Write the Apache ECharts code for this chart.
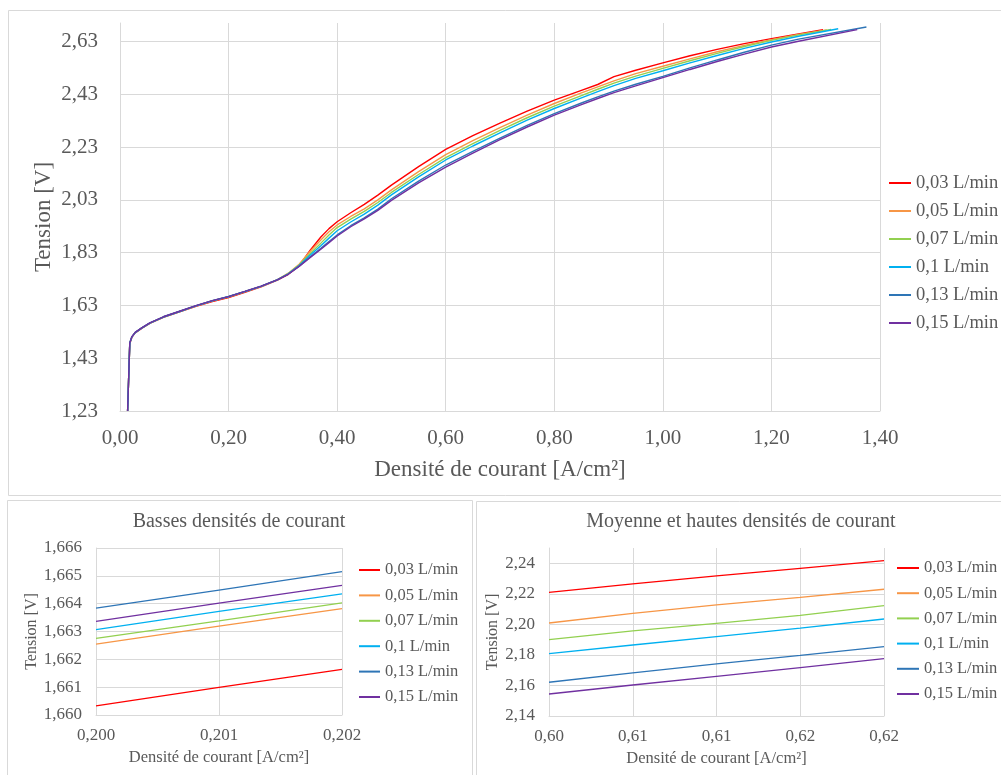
<!DOCTYPE html>
<html><head><meta charset="utf-8">
<script src="https://cdn.jsdelivr.net/npm/echarts@6/dist/echarts.min.js"></script>
<style>html,body{margin:0;padding:0;background:#fff}#c{width:1001px;height:775px}</style>
</head><body><div id="c"></div>
<script>
const seriesNames = ['0,03 L/min','0,05 L/min','0,07 L/min','0,1 L/min','0,13 L/min','0,15 L/min'];
const seriesColors = ['#FF0000','#F79646','#92D050','#00B0F0','#2E75B6','#7030A0'];

// Main chart
const mainX = [0.014, 0.018, 0.022, 0.028, 0.04, 0.055, 0.08, 0.11, 0.14, 0.17, 0.20, 0.23, 0.26, 0.29, 0.31, 0.33,
  0.35, 0.37, 0.385, 0.40, 0.425, 0.45, 0.475, 0.50, 0.55, 0.60, 0.65, 0.70, 0.75, 0.80, 0.85, 0.88, 0.91, 0.95, 1.00, 1.05, 1.10, 1.15, 1.20, 1.25];
const mainY003 = [1.230, 1.486, 1.510, 1.526, 1.543, 1.562, 1.585, 1.606, 1.627, 1.645, 1.660, 1.680, 1.700, 1.726, 1.748, 1.780,
  1.838, 1.889, 1.921, 1.947, 1.981, 2.013, 2.048, 2.086, 2.156, 2.221, 2.273, 2.321, 2.366, 2.408, 2.445, 2.467, 2.497, 2.521, 2.549, 2.576, 2.600, 2.622, 2.641, 2.659];
const mainY005 = [1.230, 1.487, 1.511, 1.527, 1.544, 1.563, 1.586, 1.607, 1.628, 1.647, 1.6625, 1.682, 1.702, 1.728, 1.752, 1.786,
  1.834, 1.878, 1.909, 1.935, 1.967, 1.996, 2.030, 2.068, 2.137, 2.201, 2.254, 2.304, 2.351, 2.395, 2.435, 2.458, 2.481, 2.508, 2.536, 2.564, 2.591, 2.615, 2.637, 2.657];
const mainY007 = [1.230, 1.487, 1.511, 1.527, 1.544, 1.563, 1.586, 1.607, 1.628, 1.647, 1.6628, 1.682, 1.702, 1.727, 1.751, 1.783,
  1.826, 1.866, 1.897, 1.925, 1.957, 1.986, 2.020, 2.058, 2.126, 2.190, 2.243, 2.293, 2.341, 2.385, 2.425, 2.449, 2.472, 2.499, 2.528, 2.557, 2.585, 2.611, 2.634, 2.655];
const mainY010 = [1.230, 1.488, 1.511, 1.527, 1.544, 1.563, 1.586, 1.607, 1.628, 1.647, 1.6631, 1.682, 1.702, 1.727, 1.750, 1.781,
  1.820, 1.856, 1.885, 1.913, 1.946, 1.976, 2.010, 2.049, 2.117, 2.181, 2.234, 2.284, 2.332, 2.376, 2.416, 2.440, 2.463, 2.490, 2.519, 2.549, 2.577, 2.604, 2.628, 2.650];
const mainY013 = [1.230, 1.488, 1.512, 1.528, 1.545, 1.564, 1.587, 1.608, 1.629, 1.648, 1.6638, 1.683, 1.703, 1.728, 1.749, 1.779,
  1.813, 1.846, 1.872, 1.897, 1.932, 1.962, 1.995, 2.034, 2.101, 2.162, 2.214, 2.264, 2.312, 2.357, 2.397, 2.420, 2.442, 2.468, 2.498, 2.530, 2.560, 2.589, 2.616, 2.639];
const mainY015 = [1.230, 1.488, 1.512, 1.528, 1.545, 1.564, 1.587, 1.608, 1.629, 1.648, 1.6634, 1.683, 1.703, 1.727, 1.748, 1.778,
  1.811, 1.843, 1.868, 1.893, 1.928, 1.958, 1.990, 2.028, 2.094, 2.154, 2.207, 2.258, 2.306, 2.351, 2.391, 2.414, 2.436, 2.462, 2.493, 2.524, 2.554, 2.582, 2.609, 2.631];
const mainEndX = [1.295, 1.302, 1.310, 1.323, 1.375, 1.358];
const mainEndY = [2.675, 2.674, 2.676, 2.678, 2.685, 2.675];
const mainXTicks = [0, 0.2, 0.4, 0.6, 0.8, 1.0, 1.2, 1.4];
const mainXLabels = ['0,00','0,20','0,40','0,60','0,80','1,00','1,20','1,40'];
const mainYTicks = [1.23, 1.43, 1.63, 1.83, 2.03, 2.23, 2.43, 2.63];
const mainYLabels = ['1,23','1,43','1,63','1,83','2,03','2,23','2,43','2,63'];

// Low current density zoom
const lowX = [0.200, 0.201, 0.202];
const lowY003 = [1.66033, 1.66099, 1.66164];
const lowY005 = [1.66255, 1.66319, 1.66382];
const lowY007 = [1.66275, 1.66338, 1.66403];
const lowY010 = [1.66307, 1.66372, 1.66435];
const lowY013 = [1.66384, 1.66449, 1.66515];
const lowY015 = [1.66336, 1.66402, 1.66466];
const lowXTicks = [0.200, 0.201, 0.202];
const lowXLabels = ['0,200','0,201','0,202'];
const lowYTicks = [1.660, 1.661, 1.662, 1.663, 1.664, 1.665, 1.666];
const lowYLabels = ['1,660','1,661','1,662','1,663','1,664','1,665','1,666'];

// Medium/high current density zoom
const midX = [0.600, 0.605, 0.610, 0.615, 0.620];
const midY003 = [2.2210, 2.2265, 2.2317, 2.2367, 2.2417];
const midY005 = [2.2009, 2.2072, 2.2127, 2.2177, 2.2230];
const midY007 = [2.1900, 2.1957, 2.2007, 2.2059, 2.2123];
const midY010 = [2.1808, 2.1865, 2.1920, 2.1976, 2.2035];
const midY013 = [2.1621, 2.1682, 2.1741, 2.1797, 2.1854];
const midY015 = [2.1544, 2.1603, 2.1660, 2.1717, 2.1776];
const midXTicks = [0.600, 0.605, 0.610, 0.615, 0.620];
const midXLabels = ['0,60','0,61','0,61','0,62','0,62'];
const midYTicks = [2.14, 2.16, 2.18, 2.20, 2.22, 2.24];
const midYLabels = ['2,14','2,16','2,18','2,20','2,22','2,24'];

const FONT = 'Liberation Serif';
const TXT = '#595959';
const GRID = '#D9D9D9';

function lookup(ticks, labels) {
  return function (v) {
    for (let i = 0; i < ticks.length; i++) if (Math.abs(ticks[i] - v) < 1e-9) return labels[i];
    return '';
  };
}

function makeAxis(gridIndex, min, max, ticks, labels, fs, margin, name, nameGap, nameFs) {
  return {
    type: 'value', gridIndex, min, max,
    axisLine: { show: true, lineStyle: { color: GRID, width: 1 } },
    axisTick: { show: false, customValues: ticks },
    axisLabel: { customValues: ticks, formatter: lookup(ticks, labels), fontFamily: FONT, fontSize: fs, color: TXT, margin },
    splitLine: { show: true, lineStyle: { color: GRID, width: 1 } },
    name, nameLocation: 'middle', nameGap, nameMoveOverlap: false,
    nameTextStyle: { fontFamily: FONT, fontSize: nameFs, color: TXT }
  };
}

const mainYs = [mainY003, mainY005, mainY007, mainY010, mainY013, mainY015];
const lowYs = [lowY003, lowY005, lowY007, lowY010, lowY013, lowY015];
const midYs = [midY003, midY005, midY007, midY010, midY013, midY015];

const series = [];
seriesNames.forEach((n, k) => {
  series.push({
    name: n, type: 'line', xAxisIndex: 0, yAxisIndex: 0, showSymbol: false, symbol: 'none',
    lineStyle: { width: 1.4, color: seriesColors[k] }, itemStyle: { color: seriesColors[k] },
    data: mainX.map((x, i) => [x, mainYs[k][i]]).concat([[mainEndX[k], mainEndY[k]]])
  });
});
seriesNames.forEach((n, k) => {
  series.push({
    name: n, type: 'line', xAxisIndex: 1, yAxisIndex: 1, showSymbol: false, symbol: 'none',
    lineStyle: { width: 1.3, color: seriesColors[k] }, itemStyle: { color: seriesColors[k] },
    data: lowX.map((x, i) => [x, lowYs[k][i]])
  });
});
seriesNames.forEach((n, k) => {
  series.push({
    name: n, type: 'line', xAxisIndex: 2, yAxisIndex: 2, showSymbol: false, symbol: 'none',
    lineStyle: { width: 1.3, color: seriesColors[k] }, itemStyle: { color: seriesColors[k] },
    data: midX.map((x, i) => [x, midYs[k][i]])
  });
});

function legend(left, top, iw, gap, fs) {
  return {
    orient: 'vertical', left, top, itemWidth: iw, itemHeight: 2, itemGap: gap, icon: 'rect',
    data: seriesNames, selectedMode: false,
    textStyle: { fontFamily: FONT, fontSize: fs, lineHeight: 20, color: TXT }
  };
}

const option = {
  animation: false,
  backgroundColor: '#fff',
  graphic: [
    { type: 'rect', silent: true, z: -10, shape: { x: 8.5, y: 10.5, width: 1100, height: 485 }, style: { fill: '#fff', stroke: GRID, lineWidth: 1 } },
    { type: 'rect', silent: true, z: -10, shape: { x: 7.5, y: 500.5, width: 465, height: 300 }, style: { fill: '#fff', stroke: GRID, lineWidth: 1 } },
    { type: 'rect', silent: true, z: -10, shape: { x: 476.5, y: 501.5, width: 600, height: 300 }, style: { fill: '#fff', stroke: GRID, lineWidth: 1 } }
  ],
  title: [
    { text: 'Basses densités de courant', left: 239, top: 510, textAlign: 'center', padding: 0,
      textStyle: { fontFamily: FONT, fontSize: 20, fontWeight: 'normal', color: TXT, lineHeight: 24 } },
    { text: 'Moyenne et hautes densités de courant', left: 741, top: 510, textAlign: 'center', padding: 0,
      textStyle: { fontFamily: FONT, fontSize: 20, fontWeight: 'normal', color: TXT, lineHeight: 24 } }
  ],
  legend: [
    legend(884, 168, 22, 8, 18.5),
    legend(354, 555, 21, 5.4, 16.5),
    legend(892, 553, 22, 5.2, 16.5)
  ],
  grid: [
    { left: 120, top: 23, width: 760, height: 388 },
    { left: 96, top: 548, width: 246, height: 167 },
    { left: 549, top: 548, width: 335, height: 168 }
  ],
  xAxis: [
    makeAxis(0, 0, 1.4, mainXTicks, mainXLabels, 21, 17, 'Densité de courant [A/cm²]', 47, 23),
    makeAxis(1, 0.2, 0.202, lowXTicks, lowXLabels, 17, 12, 'Densité de courant [A/cm²]', 34, 16.5),
    makeAxis(2, 0.6, 0.62, midXTicks, midXLabels, 17, 12, 'Densité de courant [A/cm²]', 34, 16.5)
  ],
  yAxis: [
    makeAxis(0, 1.23, 2.70, mainYTicks, mainYLabels, 21, 22, 'Tension [V]', 65, 23),
    makeAxis(1, 1.660, 1.666, lowYTicks, lowYLabels, 17, 14, 'Tension [V]', 56, 16),
    makeAxis(2, 2.14, 2.25, midYTicks, midYLabels, 17, 14, 'Tension [V]', 48, 16)
  ],
  series
};

const chart = echarts.init(document.getElementById('c'), null, { renderer: 'canvas' });
chart.setOption(option);
</script>
</body></html>
